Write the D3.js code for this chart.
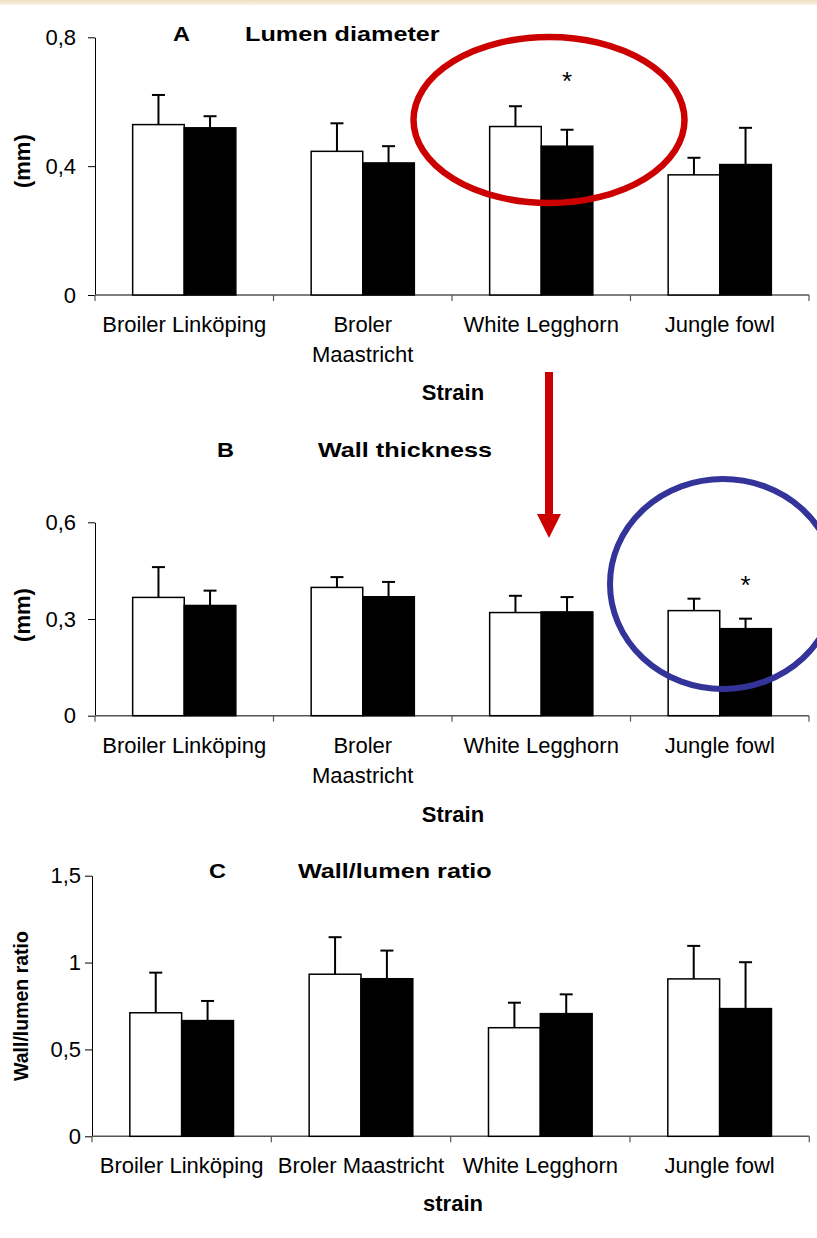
<!DOCTYPE html>
<html>
<head>
    <meta charset="utf-8" />
    <title>Lumen diameter, wall thickness and wall/lumen ratio per strain</title>
    <script src="https://cdnjs.cloudflare.com/ajax/libs/d3/7.8.5/d3.min.js"></script>
    <style>
        body {
            margin: 0;
            background: #fff;
        }
        svg text {
            font-family: "Liberation Sans", Arial, sans-serif;
            fill: #000;
        }
        .tick text {
            font-size: 22px;
        }
        .cat {
            font-size: 22px;
        }
        .ylab, .xtitle {
            font-weight: bold;
            font-size: 22px;
        }
        .title {
            font-weight: bold;
            font-size: 21px;
        }
    </style>
</head>
<body>
<div id="chart"></div>

<script>
    // categories
    var strains = ["Broiler Linköping", "Broler Maastricht", "White Legghorn", "Jungle fowl"];
    var labelsAB = [["Broiler Linköping"], ["Broler", "Maastricht"], ["White Legghorn"], ["Jungle fowl"]];
    var labelsC = [["Broiler Linköping"], ["Broler Maastricht"], ["White Legghorn"], ["Jungle fowl"]];

    // A: lumen diameter (mm)
    var lumenWhite = [0.529, 0.446, 0.523, 0.373];
    var lumenWhiteSd = [0.092, 0.087, 0.063, 0.053];
    var lumenBlack = [0.519, 0.410, 0.462, 0.405];
    var lumenBlackSd = [0.036, 0.052, 0.051, 0.114];
    var lumenTicks = [0, 0.4, 0.8];

    // B: wall thickness (mm)
    var wallWhite = [0.367, 0.398, 0.320, 0.326];
    var wallWhiteSd = [0.094, 0.032, 0.052, 0.037];
    var wallBlack = [0.342, 0.369, 0.322, 0.270];
    var wallBlackSd = [0.046, 0.046, 0.046, 0.031];
    var wallTicks = [0, 0.3, 0.6];

    // C: wall/lumen ratio
    var ratioWhite = [0.711, 0.933, 0.625, 0.906];
    var ratioWhiteSd = [0.231, 0.213, 0.144, 0.190];
    var ratioBlack = [0.666, 0.907, 0.706, 0.735];
    var ratioBlackSd = [0.113, 0.162, 0.111, 0.267];
    var ratioTicks = [0, 0.5, 1, 1.5];

    var W = 817, H = 1238;

    var svg = d3.select("#chart").append("svg")
        .attr("width", W)
        .attr("height", H);

    // beige strip along the top edge
    var grad = svg.append("defs").append("linearGradient")
        .attr("id", "strip").attr("x1", 0).attr("x2", 0).attr("y1", 0).attr("y2", 1);
    grad.append("stop").attr("offset", "0%").attr("stop-color", "#eee0c0");
    grad.append("stop").attr("offset", "100%").attr("stop-color", "#faf4e8");
    svg.append("rect").attr("x", 0).attr("y", 0).attr("width", W).attr("height", 5)
        .attr("fill", "url(#strip)");

    var comma = function (d) { return String(d).replace(".", ","); };

    // titles in the original are a bit wider than plain bold Arial
    function widen(sel, k) {
        sel.each(function () {
            var w = this.getComputedTextLength();
            d3.select(this).attr("textLength", w * k).attr("lengthAdjust", "spacingAndGlyphs");
        });
    }

    function drawPanel(p) {
        var g = svg.append("g");

        var x0 = d3.scaleBand().domain(strains).range([p.left, p.right]);
        var x1 = d3.scaleBand().domain(["w", "b"])
            .range([0, x0.bandwidth()])
            .paddingOuter(0.73);
        var y = d3.scaleLinear().domain([0, p.max]).range([p.bottom, p.top]);

        // y axis
        g.append("g")
            .attr("transform", "translate(" + p.left + ",0)")
            .call(d3.axisLeft(y).tickValues(p.ticks).tickFormat(comma)
                .tickSize(7).tickSizeOuter(0).tickPadding(p.tickPad))
            .call(function (a) {
                a.select(".domain").attr("stroke", "#000");
                a.selectAll(".tick line").attr("stroke", "#000");
            });

        // x axis: baseline with ticks at category boundaries
        g.append("line")
            .attr("x1", p.left).attr("x2", p.right)
            .attr("y1", y(0)).attr("y2", y(0))
            .attr("stroke", "#555").attr("stroke-width", 1.5);
        var edges = strains.map(function (s) { return x0(s); }).concat([p.right]);
        g.selectAll(".xtick").data(edges).enter().append("line")
            .attr("x1", function (d) { return d; })
            .attr("x2", function (d) { return d; })
            .attr("y1", y(0)).attr("y2", y(0) + 6)
            .attr("stroke", "#555").attr("stroke-width", 1.2);

        var series = [
            { key: "w", vals: p.white, sd: p.whiteSd, fill: "#fff" },
            { key: "b", vals: p.black, sd: p.blackSd, fill: "#000" }
        ];
        var rows = [];
        series.forEach(function (s) {
            strains.forEach(function (c, i) {
                rows.push({ key: s.key, cat: c, v: s.vals[i], sd: s.sd[i], fill: s.fill });
            });
        });

        // bars
        g.selectAll(".bar").data(rows).enter().append("rect")
            .attr("x", function (d) { return x0(d.cat) + x1(d.key); })
            .attr("y", function (d) { return y(d.v); })
            .attr("width", x1.bandwidth())
            .attr("height", function (d) { return y(0) - y(d.v); })
            .attr("fill", function (d) { return d.fill; })
            .attr("stroke", "#000")
            .attr("stroke-width", 1.5);

        // error bars (upper only)
        var cx = function (d) { return x0(d.cat) + x1(d.key) + x1.bandwidth() / 2; };
        g.selectAll(".err").data(rows).enter().append("line")
            .attr("x1", cx).attr("x2", cx)
            .attr("y1", function (d) { return y(d.v); })
            .attr("y2", function (d) { return y(d.v + d.sd); })
            .attr("stroke", "#000").attr("stroke-width", 2);
        g.selectAll(".cap").data(rows).enter().append("line")
            .attr("x1", function (d) { return cx(d) - 6.5; })
            .attr("x2", function (d) { return cx(d) + 6.5; })
            .attr("y1", function (d) { return y(d.v + d.sd); })
            .attr("y2", function (d) { return y(d.v + d.sd); })
            .attr("stroke", "#000").attr("stroke-width", 2);

        // category labels
        var lab = g.selectAll(".cat").data(p.labels).enter().append("text")
            .attr("class", "cat")
            .attr("text-anchor", "middle")
            .attr("x", function (d, i) { return x0(strains[i]) + x0.bandwidth() / 2; })
            .attr("y", y(0) + 37);
        lab.selectAll("tspan").data(function (d) { return d; }).enter().append("tspan")
            .attr("x", function () { return d3.select(this.parentNode).attr("x"); })
            .attr("dy", function (d, i) { return i === 0 ? 0 : 30; })
            .text(function (d) { return d; });

        // axis title
        g.append("text").attr("class", "xtitle")
            .attr("text-anchor", "middle")
            .attr("x", 453).attr("y", p.xTitleY)
            .text(p.xTitle);

        // y label
        g.append("text").attr("class", "ylab")
            .attr("text-anchor", "middle")
            .attr("transform", "translate(" + p.yLabX + "," + ((p.top + p.bottom) / 2 + p.yLabShift) + ") rotate(-90)")
            .attr("dy", "0.35em")
            .style("font-size", p.yLabSize + "px")
            .text(p.yLabel);

        // panel letter and title
        var t1 = g.append("text").attr("class", "title")
            .attr("x", p.letterX).attr("y", p.titleY)
            .text(p.letter);
        var t2 = g.append("text").attr("class", "title")
            .attr("x", p.titleX).attr("y", p.titleY)
            .text(p.title);
        widen(t1, 1.12);
        widen(t2, 1.2);

        // significance star above the black bar
        if (p.star) {
            g.append("text")
                .attr("text-anchor", "middle")
                .style("font-size", "26px")
                .attr("x", x0(p.star.cat) + x1("b") + x1.bandwidth() / 2)
                .attr("y", y(p.star.level) + 14)
                .text("*");
        }
        return g;
    }

    drawPanel({
        left: 95, right: 809, top: 37.3, bottom: 295, max: 0.8, ticks: lumenTicks, tickPad: 12,
        white: lumenWhite, whiteSd: lumenWhiteSd, black: lumenBlack, blackSd: lumenBlackSd,
        labels: labelsAB, xTitle: "Strain", xTitleY: 400,
        yLabel: "(mm)", yLabX: 22.5, yLabSize: 22, yLabShift: -5,
        letter: "A", letterX: 173, title: "Lumen diameter", titleX: 245, titleY: 41,
        star: { cat: "White Legghorn", level: 0.68 }
    });

    drawPanel({
        left: 95, right: 809, top: 522.3, bottom: 715.7, max: 0.6, ticks: wallTicks, tickPad: 12,
        white: wallWhite, whiteSd: wallWhiteSd, black: wallBlack, blackSd: wallBlackSd,
        labels: labelsAB, xTitle: "Strain", xTitleY: 822,
        yLabel: "(mm)", yLabX: 22.5, yLabSize: 22, yLabShift: -4,
        letter: "B", letterX: 217, title: "Wall thickness", titleX: 318, titleY: 457,
        star: { cat: "Jungle fowl", level: 0.42 }
    });

    drawPanel({
        left: 92, right: 809.3, top: 875.7, bottom: 1136.3, max: 1.5, ticks: ratioTicks, tickPad: 4,
        white: ratioWhite, whiteSd: ratioWhiteSd, black: ratioBlack, blackSd: ratioBlackSd,
        labels: labelsC, xTitle: "strain", xTitleY: 1211,
        yLabel: "Wall/lumen ratio", yLabX: 21, yLabSize: 19.5, yLabShift: 0,
        letter: "C", letterX: 209, title: "Wall/lumen ratio", titleX: 298, titleY: 878
    });

    // highlight marks drawn over the bars
    svg.append("ellipse")
        .attr("cx", 549).attr("cy", 120).attr("rx", 135.5).attr("ry", 83)
        .attr("fill", "none").attr("stroke", "#cc0000").attr("stroke-width", 6.5);

    svg.append("ellipse")
        .attr("cx", 723).attr("cy", 584).attr("rx", 113).attr("ry", 105)
        .attr("fill", "none").attr("stroke", "#333399").attr("stroke-width", 6);

    svg.append("rect")
        .attr("x", 545).attr("y", 372).attr("width", 8).attr("height", 143)
        .attr("fill", "#cc0000");
    svg.append("path")
        .attr("d", "M537,514 L561,514 L549,538 Z")
        .attr("fill", "#cc0000");
</script>
</body>
</html>
